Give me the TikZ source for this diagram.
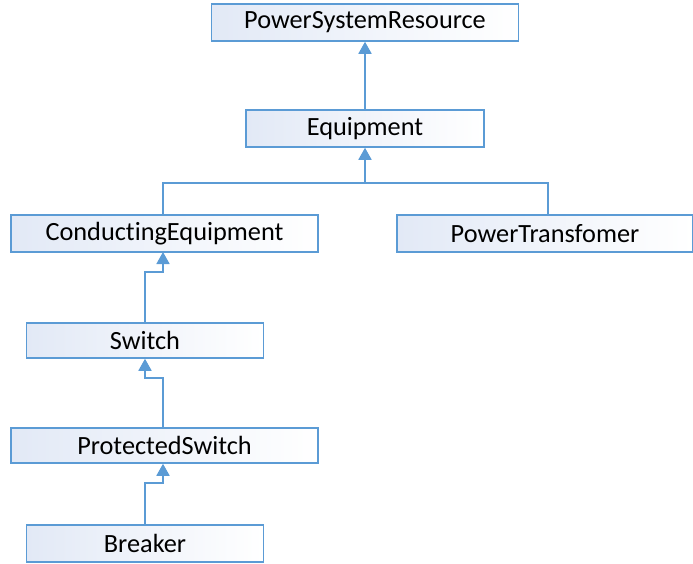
\documentclass[tikz,border=0pt]{standalone}
\usepackage{fontspec}
\setmainfont[Ligatures=NoCommon]{Carlito}
\usetikzlibrary{arrows.meta}
\definecolor{edge}{RGB}{91,155,213}
\definecolor{shadeL}{RGB}{226,233,246}
\begin{document}
\begin{tikzpicture}[x=1pt,y=-1pt,
  cls/.style={draw=edge,line width=1.5pt,left color=shadeL,right color=white,
    minimum height=37pt,inner sep=0pt,font=\fontsize{26.3}{31}\selectfont,text=black},
  link/.style={draw=edge,line width=1.8pt},
  arr/.style={link,-{Triangle[width=13pt,length=12pt]}}]
\useasboundingbox (0,0) rectangle (693,563);
\node[cls,minimum width=307pt] (psr) at (365,22.5) {PowerSystemResource};
\node[cls,minimum width=238pt] (eq) at (365,128.5) {Equipment};
\node[cls,minimum width=307pt] (ce) at (164.5,233.5) {ConductingEquipment};
\node[cls,minimum width=296pt] (pt) at (545,233.5) {PowerTransfomer};
\node[cls,minimum width=237pt,minimum height=35pt] (sw) at (145,340.5) {Switch};
\node[cls,minimum width=307pt,minimum height=35pt] (ps) at (164.5,445.5) {ProtectedSwitch};
\node[cls,minimum width=237pt] (br) at (145,543.5) {Breaker};
\coordinate (j) at (365,183);
\coordinate (ptin) at (548,215);
\draw[arr] (eq.north) -- (psr.south);
\draw[arr] (ce.north -| 163,0) |- (j) -- (eq.south);
\draw[link] (ptin) |- (j);
\draw[arr] (sw.north) -- (sw.north |- 0,272) -| (163,252) coordinate (ceb);
\draw[arr] (ps.north -| 163,0) -- (163,378) -| (sw.south);
\draw[arr] (br.north) -- (br.north |- 0,483) -| (ps.south -| 163,0);
\end{tikzpicture}
\end{document}
